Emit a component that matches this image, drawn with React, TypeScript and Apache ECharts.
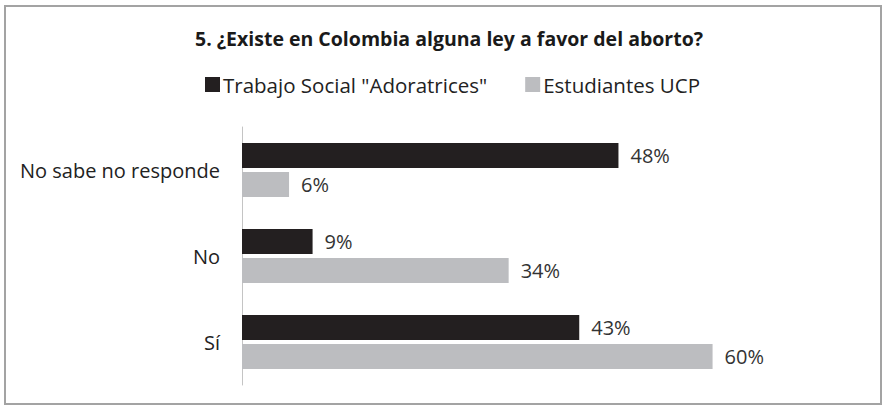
import React, { useEffect, useRef } from "react";
import * as echarts from "echarts";

const categories = ["Sí", "No", "No sabe no responde"];
const seriesNames = ['Trabajo Social "Adoratrices"', "Estudiantes UCP"];
const trabajoSocial = [43, 9, 48];
const estudiantesUCP = [60, 34, 6];
const titleText = "5. ¿Existe en Colombia alguna ley a favor del aborto?";

const FONT = "'Open Sans', 'Liberation Sans', sans-serif";

export default function App() {
  const ref = useRef<HTMLDivElement>(null);
  useEffect(() => {
    document.body.style.margin = "0";
    const chart = echarts.init(ref.current!, null, { renderer: "svg" });
    const label = {
      show: true,
      position: "right",
      distance: 12,
      formatter: "{c}%",
      fontFamily: FONT,
      fontSize: 20,
      color: "#333",
    };
    chart.setOption({
      animation: false,
      backgroundColor: "#ffffff",
      title: {
        text: titleText,
        left: 190,
        top: 23,
        textStyle: { fontFamily: FONT, fontSize: 19.5, fontWeight: "bold", color: "#1a1a1a" },
      },
      legend: {
        left: 200,
        top: 69,
        itemWidth: 15,
        itemHeight: 15,
        itemGap: 38,
        icon: "rect",
        textStyle: { fontFamily: FONT, fontSize: 20.5, color: "#222", padding: [0, 0, 0, -2] },
        data: seriesNames,
      },
      grid: { left: 242, top: 127, height: 258, right: 92 },
      xAxis: {
        type: "value",
        min: 0,
        max: 70,
        show: false,
      },
      yAxis: {
        type: "category",
        data: categories,
        axisLine: { show: true, lineStyle: { color: "#c4c4c4", width: 1 } },
        axisTick: { show: false },
        axisLabel: { fontFamily: FONT, fontSize: 20, color: "#222", margin: 22 },
      },
      series: [
        {
          name: seriesNames[0],
          type: "bar",
          data: trabajoSocial,
          barWidth: 25,
          barGap: "16%",
          itemStyle: { color: "#231f20" },
          label,
        },
        {
          name: seriesNames[1],
          type: "bar",
          data: estudiantesUCP,
          barWidth: 25,
          barGap: "16%",
          itemStyle: { color: "#bcbdc0" },
          label,
        },
      ],
      graphic: [
        {
          type: "rect",
          shape: { x: 5, y: 6, width: 876, height: 398 },
          style: { fill: "none", stroke: "#a3a3a3", lineWidth: 2 },
          silent: true,
        },
      ],
    });
    return () => chart.dispose();
  }, []);
  return <div ref={ref} style={{ width: 883, height: 406 }} />;
}
